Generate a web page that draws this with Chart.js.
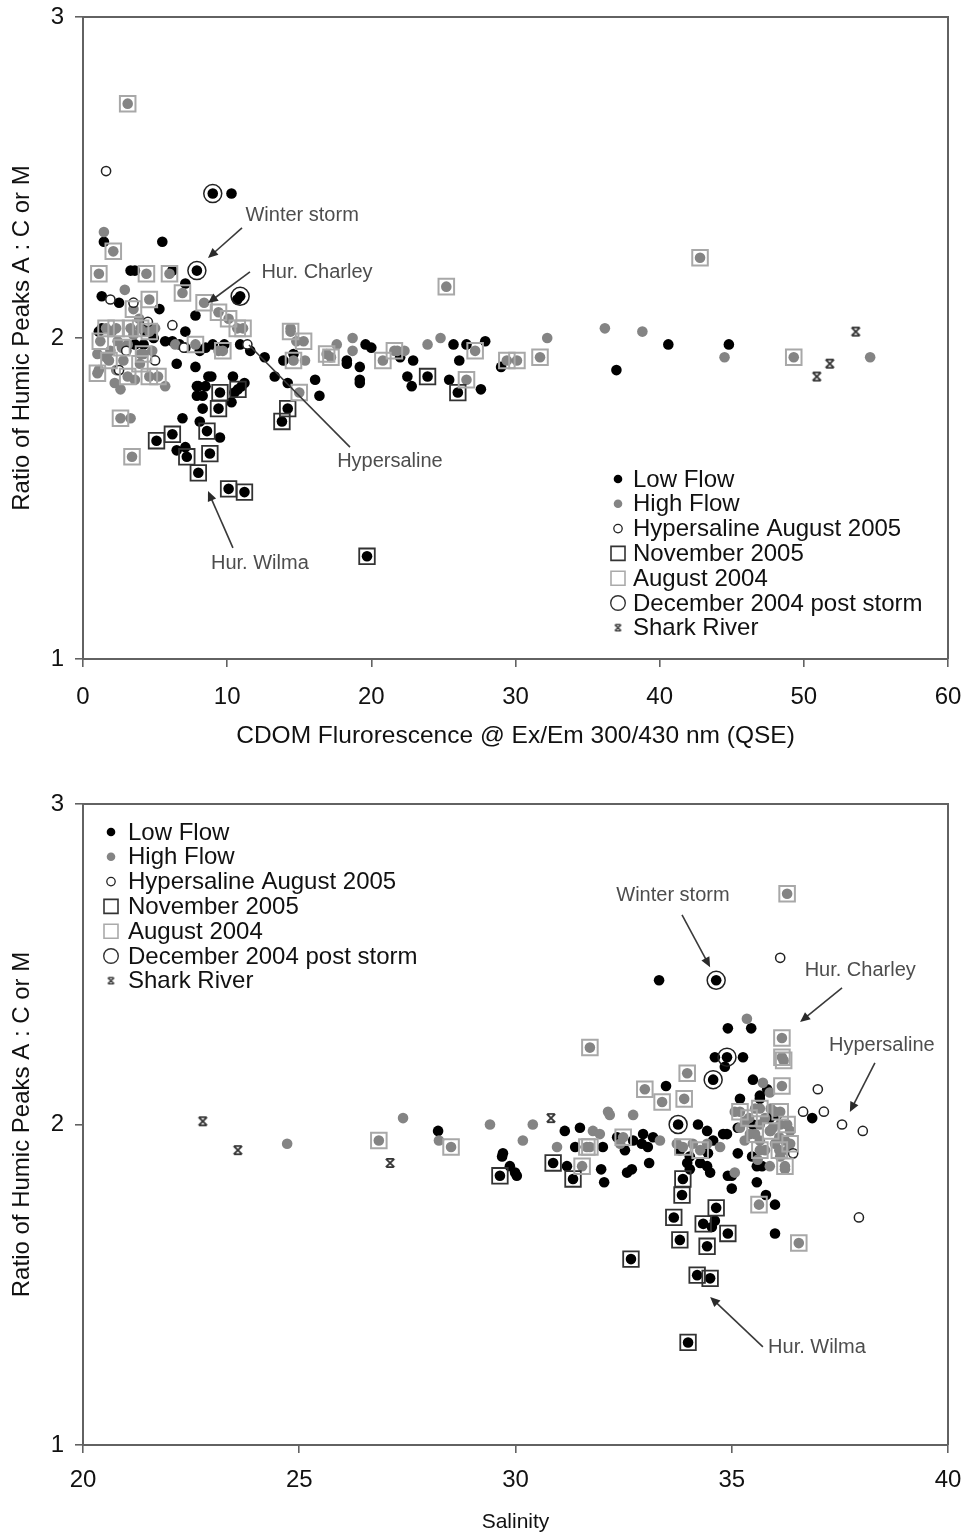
<!DOCTYPE html>
<html lang="en">
<head>
  <meta charset="UTF-8" />
  <title>Humic peak ratios vs CDOM and salinity</title>
  <script src="https://cdn.jsdelivr.net/npm/chart.js@4.4.1/dist/chart.umd.min.js"></script>
  <style>
    html, body {margin: 0; padding: 0; background: #fff;}
    canvas {display: block;}
  </style>
</head>
<body>
  <canvas id="cdomChart" width="967" height="768"></canvas>
  <canvas id="salinityChart" width="967" height="769"></canvas>

  <script>
    /* ---- Panel 1: ratio vs CDOM fluorescence (QSE) ---- */
    const cdomLowFlow = [[10.3,2.45],[5.5,2.30],[1.45,2.30],[3.3,2.21],[3.6,2.21],[6.2,2.21],[7.1,2.17],[1.3,2.13],[2.5,2.11],[10.7,2.12],[5.3,2.09],[7.8,2.07],[1.3,2.03],[4.3,2.02],[4.9,2.00],[4.2,1.98],[3.6,1.98],[7.1,2.02],[5.7,1.99],[6.2,1.99],[6.7,1.98],[7.1,1.97],[8.5,1.97],[9.0,1.98],[9.8,1.98],[10.9,1.98],[6.5,1.92],[7.8,1.91],[8.1,1.96],[7.9,1.85],[8.5,1.85],[8.9,1.88],[8.7,1.88],[10.4,1.88],[11.2,1.86],[8.0,1.85],[8.3,1.82],[10.3,1.80],[10.5,1.83],[11.0,1.85],[7.9,1.82],[8.3,1.78],[6.9,1.75],[8.1,1.74],[6.5,1.65],[7.1,1.66],[9.5,1.69],[14.6,1.95],[13.9,1.93],[18.3,1.93],[18.3,1.92],[19.6,1.98],[20.0,1.97],[19.2,1.91],[19.2,1.87],[19.2,1.86],[22.0,1.94],[22.9,1.93],[22.5,1.88],[22.8,1.85],[25.7,1.98],[26.6,1.98],[27.9,1.99],[26.1,1.93],[25.4,1.87],[27.6,1.84],[29.0,1.91],[40.6,1.98],[37.0,1.90],[44.8,1.98],[13.3,1.88],[14.2,1.86],[16.1,1.87],[16.4,1.82],[11.6,1.96],[12.6,1.94],[1.1,2.02]];
    const cdomHighFlow = [[1.45,2.33],[2.9,2.15],[3.5,2.01],[2.4,1.99],[3.1,1.98],[1.9,1.96],[6.4,1.98],[9.4,1.96],[2.2,1.86],[3.6,1.87],[2.6,1.84],[5.7,1.85],[3.3,1.75],[14.4,2.03],[14.8,1.99],[15.4,1.93],[17.6,1.98],[18.7,2.00],[18.7,1.96],[21.8,1.96],[22.3,1.96],[23.9,1.98],[24.8,2.00],[32.2,2.00],[36.2,2.03],[38.8,2.02],[44.5,1.94],[54.6,1.94],[1.1,1.90],[4.0,1.95],[5.0,2.03],[2.0,2.02],[2.8,1.93],[1.6,1.94],[4.8,1.96],[3.9,2.06],[1.0,1.95],[2.3,1.90]];
    const cdomHypersaline = [[1.6,2.52],[3.5,2.11],[6.2,2.04],[11.4,1.98],[2.5,1.90],[4.5,2.05],[1.9,2.12],[3.0,1.96],[5.0,1.93],[7.0,1.97]];
    // November 2005 samples were taken at low flow
    const cdomNov2005 = [[9.5,1.83],[9.4,1.78],[10.75,1.84],[5.1,1.68],[6.2,1.70],[7.2,1.63],[8.0,1.58],[8.6,1.71],[8.8,1.64],[10.1,1.53],[11.2,1.52],[14.2,1.78],[13.8,1.74],[19.7,1.32],[23.9,1.88],[26.0,1.83]];
    // August 2004 samples were taken at high flow
    const cdomAug2004 = [[3.1,2.73],[2.1,2.27],[1.1,2.20],[4.4,2.20],[6.0,2.20],[6.9,2.14],[4.6,2.12],[8.4,2.11],[3.5,2.09],[9.4,2.08],[10.1,2.06],[10.7,2.03],[11.1,2.03],[1.6,2.03],[2.3,2.03],[3.3,2.03],[4.0,2.03],[4.6,2.02],[1.2,1.99],[7.8,1.98],[9.7,1.96],[1.0,1.89],[3.1,1.88],[3.95,1.92],[4.6,1.88],[5.2,1.88],[2.6,1.75],[3.4,1.63],[14.4,2.02],[15.3,1.99],[14.6,1.93],[16.9,1.95],[17.2,1.94],[20.8,1.93],[21.6,1.96],[27.2,1.96],[26.6,1.87],[15.0,1.83],[29.4,1.93],[30.1,1.93],[31.7,1.94],[42.8,2.25],[49.3,1.94],[25.2,2.16],[2.7,1.97],[1.8,1.93],[4.2,1.95]];
    const cdomDec2004 = [[9.0,2.45],[7.9,2.21],[10.9,2.13]];
    const cdomShark = [[50.9,1.88],[51.8,1.92],[53.6,2.02]];
    const cdomTicks = {min: 0, max: 60, step: 10};

    /* ---- Panel 2: ratio vs salinity ---- */
    const salLowFlow = [[33.32,2.45],[28.21,1.98],[29.71,1.91],[29.69,1.90],[29.87,1.87],[29.99,1.85],[30.03,1.84],[31.14,1.98],[31.49,1.99],[31.19,1.87],[31.98,1.86],[32.05,1.82],[31.38,1.93],[33.48,2.12],[34.61,2.21],[35.26,2.21],[34.84,2.18],[34.91,2.30],[35.45,2.30],[35.49,2.14],[35.82,2.11],[35.65,2.09],[35.19,2.08],[36.86,2.02],[34.22,2.00],[34.43,1.98],[34.80,1.97],[35.14,1.99],[35.49,2.00],[36.05,2.03],[32.95,1.97],[33.18,1.96],[32.72,1.95],[32.35,1.96],[32.02,1.93],[32.53,1.92],[32.92,1.94],[33.06,1.93],[32.58,1.85],[32.69,1.86],[33.09,1.88],[33.80,1.92],[34.57,1.95],[34.89,1.97],[34.45,1.91],[35.14,1.91],[34.03,1.90],[33.97,1.88],[34.03,1.86],[34.27,1.88],[34.43,1.87],[34.50,1.85],[34.91,1.84],[35.0,1.80],[34.61,1.70],[34.54,1.68],[35.0,1.84],[35.58,1.82],[35.79,1.78],[36.0,1.75],[36.0,1.66],[35.58,1.87],[35.88,2.02],[35.65,2.08],[35.47,1.90],[35.70,1.87]];
    const salHighFlow = [[24.72,1.94],[27.40,2.02],[28.23,1.95],[29.41,2.00],[30.17,1.95],[30.40,2.00],[30.96,1.93],[31.79,1.98],[32.14,2.04],[32.18,2.03],[32.72,2.03],[35.35,2.33],[35.72,2.13],[35.88,2.10],[33.34,1.95],[32.42,1.94],[31.95,1.97],[34.10,1.94],[33.73,1.94],[34.43,1.94],[34.73,1.93],[35.07,1.85],[35.07,2.04],[35.31,2.01],[35.54,2.05],[35.77,2.02],[36.0,2.04],[36.12,2.00],[35.88,1.98],[35.65,1.95],[35.42,1.97],[36.0,1.94],[36.23,1.95],[35.77,1.92],[36.12,1.90],[35.88,1.87],[36.23,1.86],[35.65,2.00],[35.19,1.99],[36.35,1.98],[35.3,1.95],[35.9,2.05],[36.1,1.96],[35.6,1.89],[36.3,1.92],[35.95,1.99]];
    const salHypersaline = [[36.12,2.52],[36.99,2.11],[36.65,2.04],[37.13,2.04],[37.55,2.00],[38.03,1.98],[36.42,1.91],[37.94,1.71]];
    const salNov2005 = [[29.64,1.84],[30.87,1.88],[31.33,1.83],[33.87,1.83],[33.85,1.78],[33.66,1.71],[33.80,1.64],[32.67,1.58],[34.64,1.74],[34.34,1.69],[34.43,1.62],[34.91,1.66],[34.20,1.53],[34.50,1.52],[33.99,1.32]];
    const salAug2004 = [[26.84,1.95],[28.51,1.93],[31.54,1.87],[31.72,1.93],[31.72,2.24],[32.99,2.11],[33.97,2.16],[33.39,2.07],[33.90,2.08],[36.16,2.27],[36.16,2.21],[36.20,2.20],[36.16,2.12],[31.65,1.93],[32.49,1.96],[33.87,1.93],[34.27,1.92],[35.19,2.04],[35.65,2.05],[36.12,2.04],[36.35,1.94],[35.65,1.92],[36.23,1.87],[35.54,1.97],[36.28,2.00],[35.63,1.75],[36.55,1.63],[36.28,2.72],[35.9,1.98],[35.4,2.02],[36.1,1.92]];
    const salDec2004 = [[34.64,2.45],[34.89,2.21],[34.57,2.14],[33.76,2.00]];
    const salShark = [[22.77,2.01],[23.58,1.92],[27.10,1.88],[30.82,2.02]];
    const salTicks = {min: 20, max: 40, step: 5};

    const ratioTicks = {min: 1, max: 3, step: 1};
    const seriesNames = ["Low Flow", "High Flow", "Hypersaline August 2005", "November 2005",
                         "August 2004", "December 2004 post storm", "Shark River"];

    /* callouts, placed in data units: text centre, arrow tail, arrow tip */
    const cdomNotes = [
      {text: "Winter storm", at: [15.2, 2.383], from: [11.03, 2.343], to: [8.67, 2.249], head: true},
      {text: "Hur. Charley", at: [16.23, 2.203], from: [11.58, 2.206], to: [8.67, 2.109], head: true},
      {text: "Hypersaline", at: [21.29, 1.614], from: [18.52, 1.660], to: [11.51, 1.978], head: false},
      {text: "Hur. Wilma", at: [12.27, 1.299], from: [10.40, 1.346], to: [8.67, 1.523], head: true}
    ];
    const salNotes = [
      {text: "Winter storm", at: [33.64, 2.713], from: [33.85, 2.654], to: [34.50, 2.491], head: true},
      {text: "Hur. Charley", at: [37.97, 2.482], from: [37.55, 2.426], to: [36.58, 2.320], head: true},
      {text: "Hypersaline", at: [38.47, 2.245], from: [38.31, 2.192], to: [37.73, 2.039], head: true},
      {text: "Hur. Wilma", at: [36.97, 1.303], from: [35.72, 1.306], to: [34.50, 1.462], head: true}
    ];

    const FONT = "'Liberation Sans', Arial, Helvetica, sans-serif";
    const AXIS = "#626262";

    const toPts = arr => arr.map(([x, y]) => ({x, y}));

    // asterisk-like marker used for the Shark River stations
    function sharkIcon(size, lw) {
      const c = document.createElement("canvas");
      c.width = size; c.height = size;
      const g = c.getContext("2d");
      const a = lw, b = size - lw;
      g.strokeStyle = "#333";
      g.lineWidth = lw;
      g.beginPath();
      g.moveTo(a, a); g.lineTo(b, b);
      g.moveTo(b, a); g.lineTo(a, b);
      g.moveTo(a + 0.5, a); g.lineTo(b - 0.5, a);
      g.moveTo(a + 0.5, b); g.lineTo(b - 0.5, b);
      g.stroke();
      return c;
    }
    const sharkPoint = sharkIcon(12, 1.8);
    const sharkKey = sharkIcon(9, 1.4);

    function buildDatasets(low, high, hyper, nov, aug, dec, shark) {
      return [
        {label: seriesNames[0], data: toPts(low.concat(nov, dec)), pointStyle: "circle", pointRadius: 5.3,
         backgroundColor: "#000", borderColor: "#000", borderWidth: 0, order: 7},
        {label: seriesNames[1], data: toPts(high.concat(aug)), pointStyle: "circle", pointRadius: 5.3,
         backgroundColor: "#848484", borderColor: "#848484", borderWidth: 0, order: 6},
        {label: seriesNames[2], data: toPts(hyper), pointStyle: "circle", pointRadius: 4.6,
         backgroundColor: "#fff", borderColor: "#222", borderWidth: 1.5, order: 5},
        {label: seriesNames[3], data: toPts(nov), pointStyle: "rect", pointRadius: 11,
         backgroundColor: "rgba(0,0,0,0)", borderColor: "#333", borderWidth: 1.8, order: 4},
        {label: seriesNames[4], data: toPts(aug), pointStyle: "rect", pointRadius: 11,
         backgroundColor: "rgba(0,0,0,0)", borderColor: "#a8a8a8", borderWidth: 2, order: 3},
        {label: seriesNames[5], data: toPts(dec), pointStyle: "circle", pointRadius: 9,
         backgroundColor: "rgba(0,0,0,0)", borderColor: "#222", borderWidth: 1.5, order: 2},
        {label: seriesNames[6], data: toPts(shark), pointStyle: sharkPoint, pointRadius: 5, order: 1}
      ];
    }

    // legend symbols, same order as seriesNames
    const keyStyles = [
      {kind: "circle", r: 4.3, fill: "#000"},
      {kind: "circle", r: 4.3, fill: "#848484"},
      {kind: "circle", r: 4.2, fill: "#fff", stroke: "#222", lw: 1.3},
      {kind: "rect", s: 14, stroke: "#333", lw: 1.6},
      {kind: "rect", s: 14, stroke: "#aaa", lw: 1.6},
      {kind: "circle", r: 7.3, stroke: "#333", lw: 1.4},
      {kind: "img", img: sharkKey}
    ];

    // box legend drawn inside the plot area; dx/dy measured from the plot's top-left
    function insetLegend(dx, dy, gap) {
      return {
        id: "insetLegend",
        afterDraw(chart) {
          const {ctx, chartArea: a} = chart;
          const sx = a.left + dx;
          ctx.save();
          ctx.font = "24px " + FONT;
          ctx.textBaseline = "middle";
          ctx.textAlign = "left";
          seriesNames.forEach((name, i) => {
            const y = a.top + dy + i * 24.8;
            const k = keyStyles[i];
            ctx.beginPath();
            if (k.kind === "circle") {
              ctx.arc(sx, y, k.r, 0, Math.PI * 2);
            } else if (k.kind === "rect") {
              ctx.rect(sx - k.s / 2, y - k.s / 2, k.s, k.s);
            }
            if (k.fill) { ctx.fillStyle = k.fill; ctx.fill(); }
            if (k.stroke) { ctx.strokeStyle = k.stroke; ctx.lineWidth = k.lw; ctx.stroke(); }
            if (k.kind === "img") ctx.drawImage(k.img, sx - k.img.width / 2, y - k.img.height / 2);
            ctx.fillStyle = "#111";
            ctx.fillText(name, sx + gap, y + 1);
          });
          ctx.restore();
        }
      };
    }

    // callout text with arrows, positioned through the chart's scales
    function callouts(notes) {
      return {
        id: "callouts",
        afterDatasetsDraw(chart) {
          const {ctx, scales: {x, y}} = chart;
          ctx.save();
          ctx.font = "20px " + FONT;
          ctx.textAlign = "center";
          ctx.textBaseline = "middle";
          notes.forEach(n => {
            ctx.fillStyle = "#4d4d4d";
            ctx.fillText(n.text, x.getPixelForValue(n.at[0]), y.getPixelForValue(n.at[1]));
            const x0 = x.getPixelForValue(n.from[0]), y0 = y.getPixelForValue(n.from[1]);
            const x1 = x.getPixelForValue(n.to[0]), y1 = y.getPixelForValue(n.to[1]);
            const ang = Math.atan2(y1 - y0, x1 - x0);
            const len = n.head ? 10 : 0;
            ctx.strokeStyle = "#3a3a3a";
            ctx.lineWidth = 1.6;
            ctx.beginPath();
            ctx.moveTo(x0, y0);
            ctx.lineTo(x1 - Math.cos(ang) * len * 0.8, y1 - Math.sin(ang) * len * 0.8);
            ctx.stroke();
            if (n.head) {
              ctx.fillStyle = "#2a2a2a";
              ctx.beginPath();
              ctx.moveTo(x1, y1);
              ctx.lineTo(x1 - Math.cos(ang) * len + Math.sin(ang) * 4.5, y1 - Math.sin(ang) * len - Math.cos(ang) * 4.5);
              ctx.lineTo(x1 - Math.cos(ang) * len - Math.sin(ang) * 4.5, y1 - Math.sin(ang) * len + Math.cos(ang) * 4.5);
              ctx.closePath();
              ctx.fill();
            }
          });
          ctx.restore();
        }
      };
    }

    // top and right sides of the plot box
    const frame = {
      id: "frame",
      beforeDatasetsDraw(chart) {
        const {ctx, chartArea: a} = chart;
        ctx.save();
        ctx.strokeStyle = AXIS;
        ctx.lineWidth = 2;
        ctx.beginPath();
        ctx.moveTo(a.left, a.top);
        ctx.lineTo(a.right, a.top);
        ctx.lineTo(a.right, a.bottom);
        ctx.stroke();
        ctx.restore();
      }
    };

    function makeChart(canvasId, datasets, opt) {
      return new Chart(document.getElementById(canvasId).getContext("2d"), {
        type: "scatter",
        data: {datasets},
        plugins: [frame, callouts(opt.notes), insetLegend(opt.legendDx, opt.legendDy, opt.legendGap)],
        options: {
          responsive: false,
          animation: false,
          devicePixelRatio: 1,
          events: [],
          layout: {padding: {left: 0, right: 19, top: opt.padTop, bottom: 0}},
          plugins: {legend: {display: false}, tooltip: {enabled: false}},
          scales: {
            x: {
              type: "linear", min: opt.xTicks.min, max: opt.xTicks.max,
              ticks: {stepSize: opt.xTicks.step, color: "#111", font: {size: 24, family: FONT},
                      padding: opt.xTickPad, maxRotation: 0},
              grid: {drawOnChartArea: false, drawTicks: true, tickLength: 8, color: AXIS, lineWidth: 1.6},
              border: {display: true, color: AXIS, width: 2},
              title: {display: true, text: opt.xTitle, color: "#111",
                      font: {size: opt.xTitleSize, family: FONT}, padding: {top: 0, bottom: opt.xTitlePad}},
              afterFit(s) { s.height = opt.xHeight; s.paddingLeft = 0; s.paddingRight = 0; }
            },
            y: {
              type: "linear", min: ratioTicks.min, max: ratioTicks.max,
              ticks: {stepSize: ratioTicks.step, color: "#111", font: {size: 24, family: FONT}, padding: 11},
              grid: {drawOnChartArea: false, drawTicks: true, tickLength: 8, color: AXIS, lineWidth: 1.6},
              border: {display: true, color: AXIS, width: 2},
              title: {display: true, text: "Ratio of Humic Peaks A : C or M", color: "#111",
                      font: {size: 24, family: FONT}, padding: {top: 8, bottom: 0}},
              afterFit(s) { s.width = 83; s.paddingTop = 0; s.paddingBottom = 0; }
            }
          }
        }
      });
    }

    makeChart("cdomChart",
      buildDatasets(cdomLowFlow, cdomHighFlow, cdomHypersaline, cdomNov2005, cdomAug2004, cdomDec2004, cdomShark),
      {xTicks: cdomTicks, xTitle: "CDOM Flurorescence @ Ex/Em 300/430 nm (QSE)", xTitleSize: 24.5,
       xTitlePad: 17, xTickPad: 16, xHeight: 109, padTop: 17, notes: cdomNotes,
       legendDx: 535, legendDy: 462, legendGap: 15});

    makeChart("salinityChart",
      buildDatasets(salLowFlow, salHighFlow, salHypersaline, salNov2005, salAug2004, salDec2004, salShark),
      {xTicks: salTicks, xTitle: "Salinity", xTitleSize: 21,
       xTitlePad: 2, xTickPad: 13, xHeight: 92, padTop: 36, notes: salNotes,
       legendDx: 28, legendDy: 28, legendGap: 17});
  </script>
</body>
</html>
